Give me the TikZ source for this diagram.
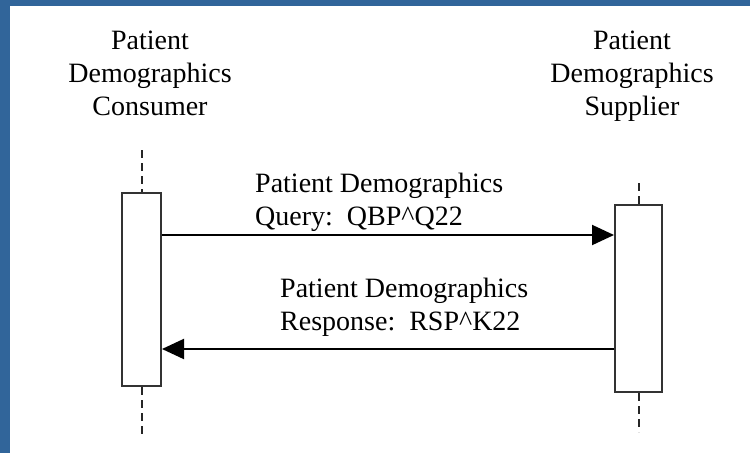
\documentclass[tikz,border=0pt]{standalone}
\usepackage{fontspec}
\setmainfont{Liberation Serif}
\usetikzlibrary{arrows.meta}
\definecolor{frameblue}{HTML}{31659A}

\begin{document}
\begin{tikzpicture}[x=1pt, y=-1pt, >={Triangle[length=22pt,width=20pt]}, font=\fontsize{28}{33}\selectfont]
		\tikzstyle{lifebox}=[draw=black!80, line width=2pt, fill=white, inner sep=0pt]
		\tikzstyle{lifeline}=[draw=black!85, line width=2pt, dash pattern=on 8pt off 5pt]
		\tikzstyle{msg}=[->, line width=2pt]
		\tikzstyle{role}=[align=center, anchor=base, inner sep=0pt]
		\tikzstyle{msgtext}=[align=left, anchor=base west, inner sep=0pt]
		
		\useasboundingbox (0,0) rectangle (750,453);
		\fill[frameblue] (0,0) rectangle (750,453);
		\fill[white] (10,6) rectangle (750,453);
		
		% base anchor sits on the last line
		\node[role] at (150,115) (C) {Patient\\Demographics\\Consumer};
		\node[role] at (632,115) (S) {Patient\\Demographics\\Supplier};
		
		\node[lifebox, minimum width=39pt, minimum height=193pt] at (141.5,289.5) (Cbox) {};
		\node[lifebox, minimum width=47pt, minimum height=187pt] at (638.5,298.5) (Sbox) {};
		
		\coordinate (Ctop) at (141.5,150);
		\coordinate (Cend) at (141.5,437);
		\coordinate (Stop) at (638.5,183);
		\coordinate (Send) at (638.5,432);
		\coordinate (q) at (0,235);
		\coordinate (r) at (0,349);
		
		\draw[lifeline] (Ctop) -- (Cbox.north);
		\draw[lifeline] (Cbox.south) -- (Cend);
		\draw[lifeline] (Stop) -- (Sbox.north);
		\draw[lifeline] (Sbox.south) -- (Send);
		
		\node[msgtext] at (255,225) (Q) {Patient Demographics\\Query:\ \ QBP\textasciicircum Q22};
		\node[msgtext] at (280,330) (R) {Patient Demographics\\Response:\ \ RSP\textasciicircum K22};
		
		\draw[msg] (Cbox.east |- q) -- (Sbox.west |- q);
		\draw[msg] (Sbox.west |- r) -- (Cbox.east |- r);
	\end{tikzpicture}
\end{document}
